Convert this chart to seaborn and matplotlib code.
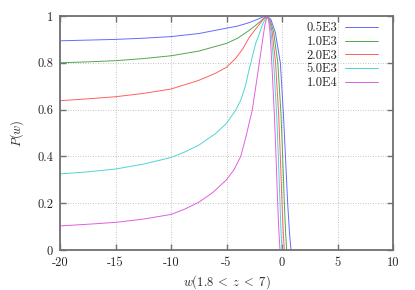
import matplotlib
matplotlib.use('Agg')
import matplotlib.pyplot as plt
import pandas as pd
import seaborn as sns
from matplotlib.lines import Line2D

# values
labels = ['0.5E3', '1.0E3', '2.0E3', '5.0E3', '1.0E4']
colors = ['#6868ff', '#50a850', '#ff6060', '#50d4d4', '#e060e0']

w_05e3 = [-20, -17.5, -15, -12.5, -10, -7.5, -5, -4, -3, -2.5, -2, -1.7, -1.35, -1.0, -0.6, -0.15, 0.13, 0.31, 0.51, 0.68, 0.81]
p_05e3 = [0.894, 0.897, 0.900, 0.905, 0.912, 0.925, 0.948, 0.957, 0.971, 0.980, 0.990, 0.996, 1.0, 0.985, 0.93, 0.80, 0.58, 0.40, 0.20, 0.07, 0.0]

w_10e3 = [-20, -17.5, -15, -12.5, -10, -7.5, -5, -4, -3, -2.5, -2, -1.7, -1.35, -1.05, -0.75, -0.38, -0.09, 0.06, 0.21, 0.33, 0.42]
p_10e3 = [0.800, 0.804, 0.809, 0.818, 0.830, 0.850, 0.883, 0.905, 0.937, 0.955, 0.975, 0.988, 1.0, 0.98, 0.93, 0.80, 0.58, 0.40, 0.20, 0.07, 0.0]

w_20e3 = [-20, -17.5, -15, -12.5, -10, -7.5, -6, -5, -4.17, -3.5, -3, -2.5, -2.07, -1.7, -1.35, -1.1, -0.88, -0.58, -0.30, -0.15, 0.0, 0.12, 0.21]
p_20e3 = [0.638, 0.646, 0.655, 0.669, 0.688, 0.725, 0.755, 0.781, 0.819, 0.862, 0.905, 0.937, 0.962, 0.985, 1.0, 0.98, 0.93, 0.80, 0.58, 0.40, 0.20, 0.07, 0.0]

w_50e3 = [-20, -17.5, -15, -12.5, -10, -8.75, -7.5, -6, -5, -4.17, -3.72, -3.3, -2.97, -2.6, -2.37, -2.0, -1.7, -1.35, -1.15, -0.98, -0.75, -0.48, -0.33, -0.18, -0.08, 0.0]
p_50e3 = [0.325, 0.334, 0.346, 0.367, 0.395, 0.419, 0.448, 0.497, 0.541, 0.598, 0.64, 0.70, 0.77, 0.84, 0.883, 0.93, 0.97, 1.0, 0.98, 0.93, 0.80, 0.58, 0.40, 0.20, 0.07, 0.0]

w_10e4 = [-20, -17.5, -15, -12.5, -10, -8.75, -7.5, -6.25, -5, -4.3, -3.72, -3.27, -2.67, -2.2, -1.8, -1.55, -1.35, -1.2, -1.08, -0.92, -0.69, -0.54, -0.39, -0.27, -0.18]
p_10e4 = [0.103, 0.110, 0.118, 0.132, 0.152, 0.175, 0.204, 0.245, 0.300, 0.345, 0.40, 0.48, 0.60, 0.75, 0.88, 0.96, 1.0, 0.98, 0.93, 0.80, 0.58, 0.40, 0.20, 0.07, 0.0]

x_ticks = [-20, -15, -10, -5, 0, 5, 10]
y_ticks = [0, 0.2, 0.4, 0.6, 0.8, 1]
y_ticklabels = ['0', '0.2', '0.4', '0.6', '0.8', '1']

series = [(w_05e3, p_05e3), (w_10e3, p_10e3), (w_20e3, p_20e3), (w_50e3, p_50e3), (w_10e4, p_10e4)]
df = pd.concat(
    [pd.DataFrame({'w': w, 'P': p, 'N': lab}) for (w, p), lab in zip(series, labels)],
    ignore_index=True,
)

sns.set_style('ticks')
plt.rcParams['font.family'] = ['cmr10', 'DejaVu Serif']
plt.rcParams['mathtext.fontset'] = 'cm'
plt.rcParams['axes.unicode_minus'] = False
plt.rcParams['font.size'] = 9

fig = plt.figure(figsize=(4.15, 2.9), dpi=100)
ax = fig.add_axes([60 / 415, 40 / 290, 333 / 415, 234 / 290])

sns.lineplot(data=df, x='w', y='P', hue='N', palette=dict(zip(labels, colors)),
             estimator=None, sort=False, lw=0.7, legend=False, ax=ax)

ax.set_xlim(-20, 10)
ax.set_ylim(0, 1)
ax.set_xticks(x_ticks, [str(t) for t in x_ticks])
ax.set_yticks(y_ticks, y_ticklabels)
ax.grid(True, color='#b0b0b0', linestyle=(0, (1, 2)), linewidth=0.6)
ax.tick_params(direction='in', length=4, width=1, color='#707070', top=True, right=True,
               labelsize=9, pad=5)
for spine in ax.spines.values():
    spine.set_color('#707070')
    spine.set_linewidth(1.3)
ax.set_xlabel(r'$w(1.8\; <\; z\; <\; 7)$', fontsize=9, labelpad=3)
ax.set_ylabel('$P(w)$', fontsize=9, labelpad=8)

handles = [Line2D([], [], color=c, lw=0.7) for c in colors]
ax.legend(handles, labels, loc='upper right', frameon=False, markerfirst=False,
          fontsize=9, handlelength=2.6, handletextpad=0.6, labelspacing=0.13,
          borderaxespad=0.0, borderpad=0.3, bbox_to_anchor=(0.965, 0.99))

fig.savefig('out.png', dpi=100)
